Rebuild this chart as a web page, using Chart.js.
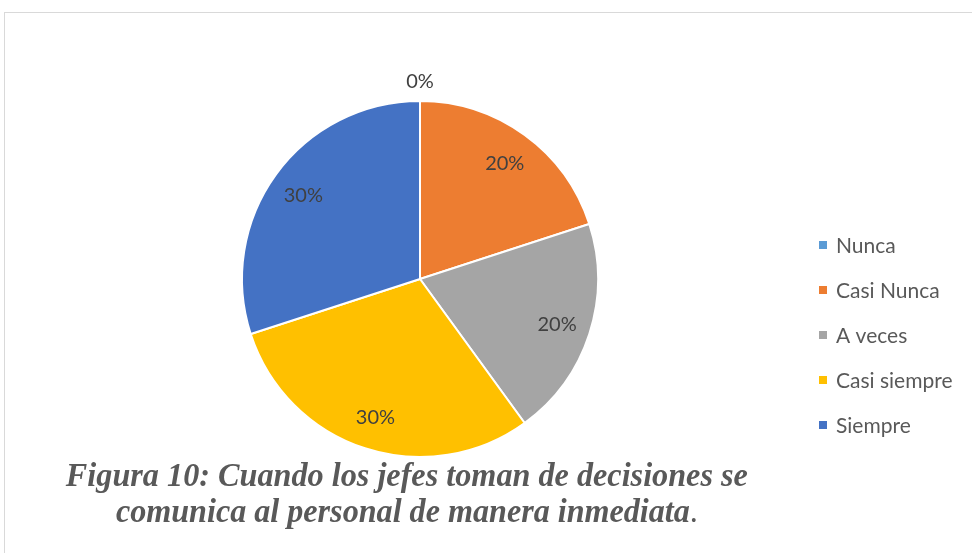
<!DOCTYPE html>
<html><head><meta charset="utf-8">
<script src="https://cdn.jsdelivr.net/npm/chart.js@4/dist/chart.umd.min.js"></script>
<style>
html,body{margin:0;padding:0;background:#fff;}
#wrap{position:relative;width:972px;height:553px;overflow:hidden;}
#frame{position:absolute;left:4px;top:12px;width:1000px;height:600px;border:1px solid #d9d9d9;box-sizing:border-box;}
canvas{position:absolute;left:0;top:0;}
.cap{position:absolute;left:0;width:814px;text-align:center;font-family:"Liberation Serif","Times New Roman",serif;font-weight:bold;font-style:italic;color:#595959;font-size:34px;white-space:nowrap;line-height:1;}
.cap span{display:inline-block;transform-origin:center;}
.cap i{font-weight:normal;font-style:normal;}
</style></head>
<body><div id="wrap"><div id="frame"></div><canvas id="c" width="972" height="553"></canvas>
<div class="cap" id="cap1" style="top:458px"><span>Figura 10: Cuando los jefes toman de decisiones se</span></div>
<div class="cap" id="cap2" style="top:494px"><span>comunica al personal de manera inmediata<i>.</i></span></div>
</div>
<script>
const categories = ["Nunca", "Casi Nunca", "A veces", "Casi siempre", "Siempre"];
const percentages = [0, 20, 20, 30, 30];
const colors = ["#5B9BD5", "#ED7D31", "#A5A5A5", "#FFC000", "#4472C4"];

// fit caption widths
const fit = [["cap1", 682], ["cap2", 582]];
fit.forEach(([id, w]) => {
  const s = document.querySelector('#' + id + ' span');
  const r = s.getBoundingClientRect().width;
  s.style.transform = 'scaleX(' + (w / r) + ')';
});

const labelPlugin = {
  id: 'pieLabels',
  afterDatasetsDraw(chart) {
    const ctx = chart.ctx;
    const meta = chart.getDatasetMeta(0);
    ctx.save();
    ctx.font = '20px Lato, "Noto Sans", sans-serif';
    ctx.fillStyle = '#404040';
    ctx.textAlign = 'center';
    ctx.textBaseline = 'middle';
    meta.data.forEach((arc, i) => {
      const p = arc.getProps(['x', 'y', 'startAngle', 'endAngle', 'outerRadius'], true);
      const mid = (p.startAngle + p.endAngle) / 2;
      const v = percentages[i];
      const rr = v === 0 ? p.outerRadius + 20 : p.outerRadius * 0.81;
      ctx.fillText(v + '%', p.x + Math.cos(mid) * rr, p.y + Math.sin(mid) * rr + 1);
    });
    // legend
    ctx.textAlign = 'left';
    ctx.font = '21px Lato, "Noto Sans", sans-serif';
    categories.forEach((c, i) => {
      const y = 245 + i * 45;
      ctx.fillStyle = colors[i];
      ctx.fillRect(819, y - 4, 8, 8);
      ctx.fillStyle = '#595959';
      ctx.fillText(c, 836, y + 1);
    });
    ctx.restore();
  }
};

new Chart(document.getElementById('c'), {
  type: 'pie',
  data: {
    labels: categories,
    datasets: [{
      data: percentages,
      backgroundColor: colors,
      borderColor: '#ffffff',
      borderWidth: 2
    }]
  },
  options: {
    responsive: false,
    animation: false,
    layout: { padding: { left: 241, right: 373, top: 100, bottom: 95 } },
    plugins: { legend: { display: false }, tooltip: { enabled: false } }
  },
  plugins: [labelPlugin]
});
</script></body></html>
